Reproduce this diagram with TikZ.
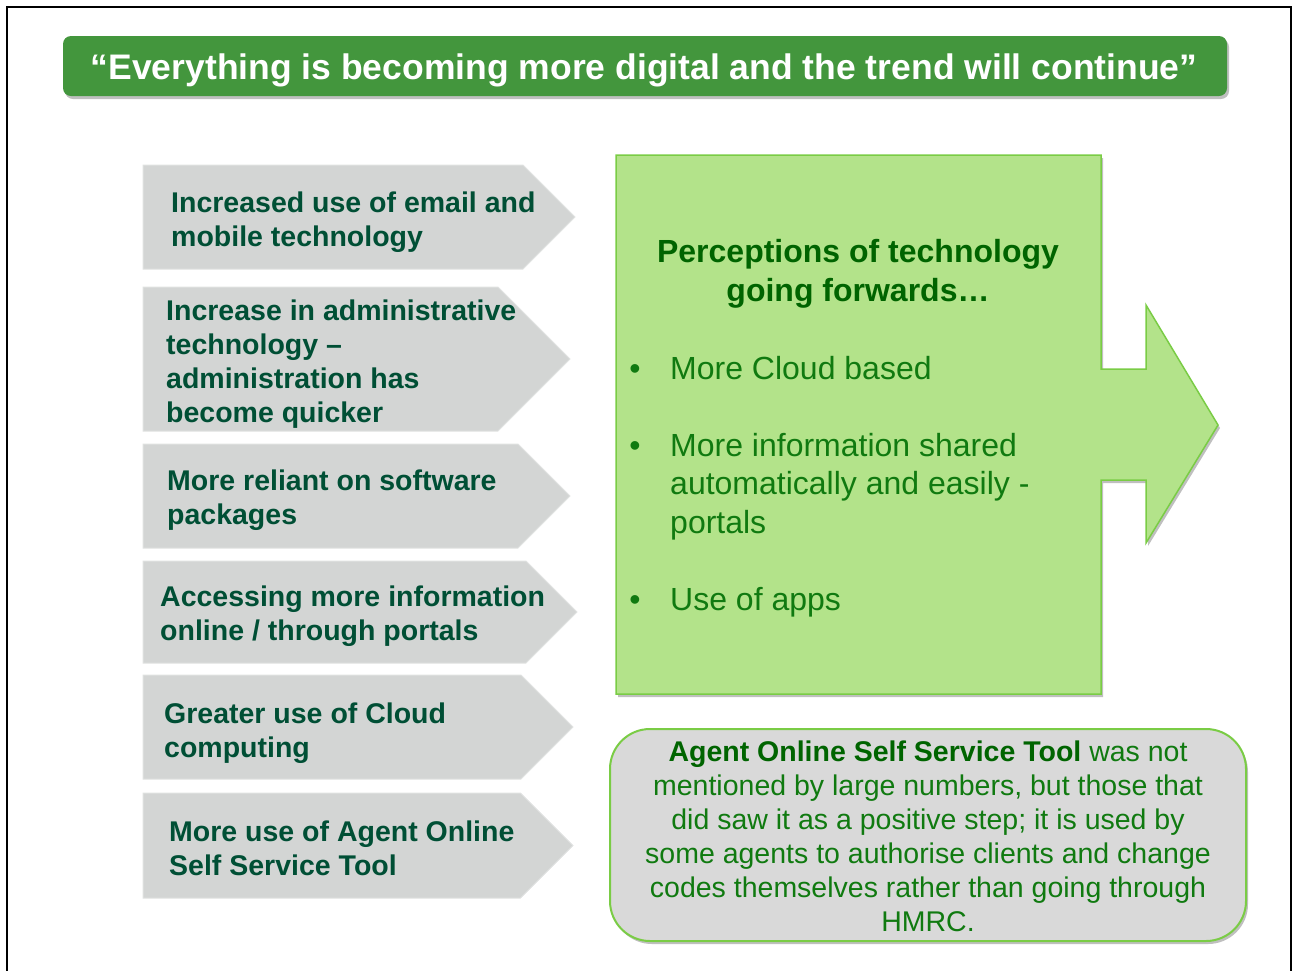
\documentclass[tikz,border=0pt]{standalone}
\usepackage{fontspec}
\setmainfont{Liberation Sans}
\usetikzlibrary{shapes.symbols,shadows}

\definecolor{titlegreen}{RGB}{67,150,61}
\definecolor{chevgrey}{RGB}{211,213,212}
\definecolor{chevink}{RGB}{0,79,53}
\definecolor{panelgreen}{RGB}{179,227,138}
\definecolor{paneledge}{RGB}{122,204,69}
\definecolor{headgreen}{RGB}{0,100,0}
\definecolor{bulletgreen}{RGB}{16,122,16}
\definecolor{notegrey}{RGB}{217,217,217}

\tikzset{
  softshadow/.style={drop shadow={shadow xshift=2pt,shadow yshift=-3pt,fill=black,opacity=0.25}},
  titlebar/.style={fill=titlegreen,rounded corners=8pt,minimum width=1164pt,minimum height=60pt,
    inner sep=0pt,softshadow},
  titletext/.style={anchor=base,inner sep=0pt,text=white,font=\fontsize{35.5}{40}\selectfont\bfseries},
  chev/.style={signal,signal to=east,signal pointer angle=90,fill=chevgrey,draw=chevgrey!70!white,
    line width=1pt,inner sep=0pt,outer sep=0pt,anchor=north west},
  % multi-line nodes sit on the baseline of their last line
  chevtext/.style={anchor=base west,align=left,inner sep=0pt,text=chevink,
    font=\fontsize{28.5}{34}\selectfont\bfseries},
  panel/.style={fill=panelgreen,draw=paneledge,line width=1.5pt,softshadow},
  headtext/.style={anchor=base,align=center,inner sep=0pt,text=headgreen,
    font=\fontsize{32}{39}\selectfont\bfseries},
  bullettext/.style={anchor=base west,align=left,inner sep=0pt,text=bulletgreen,
    font=\fontsize{32}{38.5}\selectfont},
  dot/.style={anchor=base,inner sep=0pt,text=bulletgreen,font=\fontsize{32}{38}\selectfont},
  notebox/.style={fill=notegrey,draw=paneledge,line width=2pt,rounded corners=40pt,
    minimum width=636pt,minimum height=212pt,softshadow},
  notetext/.style={anchor=base,align=center,inner sep=0pt,text=bulletgreen,
    font=\fontsize{28.5}{34}\selectfont}
}

\begin{document}
\begin{tikzpicture}[x=1pt,y=-1pt]
  \useasboundingbox (0,0) rectangle (1297,970);
  \clip (0,0) rectangle (1297,970);
  % outer frame
  \draw[line width=2pt] (7,7) rectangle (1291,990);

  % heading bar
  \node[titlebar] (title) at (645,66) {};
  \node[titletext] (titletxt) at (644,79) {“Everything is becoming more digital and the trend will continue”};

  % grey chevrons on the left
  \node[chev,minimum width=432pt,minimum height=104pt] (c1) at (143,165) {};
  \node[chev,minimum width=427pt,minimum height=144pt] (c2) at (143,287) {};
  \node[chev,minimum width=427pt,minimum height=104pt] (c3) at (143,444) {};
  \node[chev,minimum width=434pt,minimum height=102pt] (c4) at (143,561) {};
  \node[chev,minimum width=430pt,minimum height=104pt] (c5) at (143,675) {};
  \node[chev,minimum width=430pt,minimum height=105pt] (c6) at (143,793) {};

  \node[chevtext] (t1) at (171,246) {Increased use of email and\\mobile technology};
  \node[chevtext] (t2) at (166,422) {Increase in administrative\\technology –\\administration has\\become quicker};
  \node[chevtext] (t3) at (167,524) {More reliant on software\\packages};
  \node[chevtext] (t4) at (160,640) {Accessing more information\\online / through portals};
  \node[chevtext] (t5) at (164,757) {Greater use of Cloud\\computing};
  \node[chevtext] (t6) at (169,875) {More use of Agent Online\\Self Service Tool};

  % green panel with its arrow
  \draw[panel] (616,155) -- (1101,155) -- (1101,369) -- (1146,369) -- (1146,305)
    -- (1218,425) -- (1146,543) -- (1146,480) -- (1101,480) -- (1101,694) -- (616,694) -- cycle;

  \node[headtext] (head) at (858,301) {Perceptions of technology\\going forwards…};
  \node[dot] (d1) at (635,379) {•};
  \node[dot] (d2) at (635,456) {•};
  \node[dot] (d3) at (635,610) {•};
  \node[bullettext] (b1) at (670,379) {More Cloud based};
  \node[bullettext] (b2) at (670,533) {More information shared\\automatically and easily -\\portals};
  \node[bullettext] (b3) at (670,610) {Use of apps};

  % note at the bottom
  \node[notebox] (note) at (928,835) {};
  \node[notetext] (notetxt) at (928,931) {\textcolor{headgreen}{\bfseries Agent Online Self Service Tool} was not\\
    mentioned by large numbers, but those that\\did saw it as a positive step; it is used by\\
    some agents to authorise clients and change\\codes themselves rather than going through\\HMRC.};
\end{tikzpicture}
\end{document}
